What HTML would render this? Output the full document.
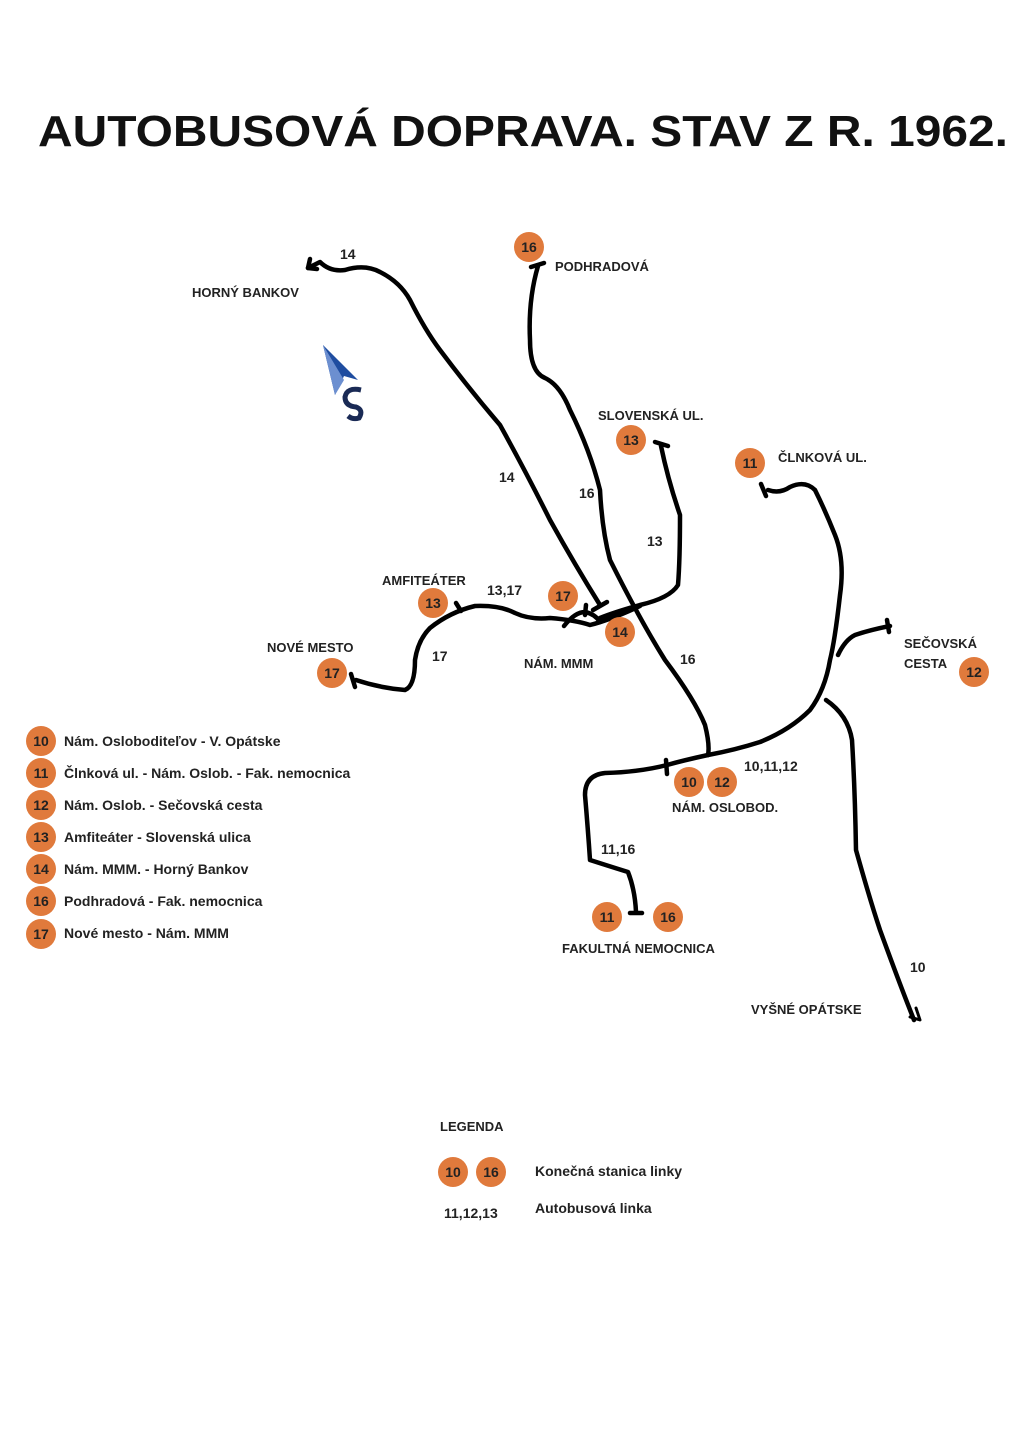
<!DOCTYPE html>
<html><head><meta charset="utf-8"><style>
html,body{margin:0;padding:0;background:#fff;}
svg{display:block;font-family:"Liberation Sans",sans-serif;}
</style></head><body>
<svg width="1024" height="1448" viewBox="0 0 1024 1448" xmlns="http://www.w3.org/2000/svg">
<text x="38" y="146" font-size="44" font-weight="bold" fill="#111" textLength="970" lengthAdjust="spacingAndGlyphs">AUTOBUSOVÁ DOPRAVA. STAV Z R. 1962.</text>

<g fill="none" stroke="#000" stroke-width="4.5" stroke-linecap="round" stroke-linejoin="round">
<!-- 14 -->
<path d="M308 268 L320 262 Q330 272 345 270 Q365 264 380 272 Q400 282 410 300 Q425 330 440 350 Q470 390 500 425 Q525 470 550 520 Q575 565 600 605"/>
<path d="M308 268 l2 -9 M308 268 l9 1"/>
<path d="M593 610 l14 -8"/>
<!-- 16 -->
<path d="M538 266 Q528 300 530 340 Q530 372 545 378 Q560 385 570 410 Q590 450 600 490 Q602 530 610 560 Q640 620 665 660 Q695 700 705 725 Q710 745 708 755"/>
<path d="M531 267 l13 -4"/>
<!-- 13 -->
<path d="M661 446 Q668 480 680 515 Q680 560 678 585 Q670 598 640 605 Q615 612 600 618"/>
<path d="M655 442 l13 4"/>
<!-- main line 13/17 -->
<path d="M356 680 Q380 688 405 690 Q415 686 415 660 Q418 640 430 628 Q450 612 475 606 Q500 605 515 613 Q530 620 550 618 Q575 620 590 625 Q610 620 640 606"/>
<path d="M351 674 l4 13"/>
<path d="M456 603 l5 8"/>
<path d="M564 626 Q575 612 585 612 Q595 614 600 622 M586 605 l-1 10"/>
<!-- 11/12 north -->
<path d="M768 490 Q780 494 790 487 Q805 480 815 490 Q825 510 835 535 Q845 560 840 595 Q835 640 830 660 Q825 690 810 710 Q790 730 760 742 Q735 750 708 755"/>
<path d="M761 484 l5 12"/>
<!-- 12 branch -->
<path d="M838 655 Q845 640 855 635 Q870 630 890 626"/>
<path d="M887 620 l2 12"/>
<!-- 10 -->
<path d="M826 700 Q848 715 852 740 Q855 790 856 850 Q870 900 880 930 Q900 985 914 1020"/>
<path d="M916 1008 l4 12 l-10 -3" stroke-width="3"/>
<!-- 11,16 south -->
<path d="M708 755 Q685 760 667 765 Q640 772 605 773 Q585 775 585 795 Q588 830 590 860 Q615 868 628 872 Q635 890 636 912"/>
<path d="M666 760 l1 14"/>
<path d="M630 913 l12 0"/>
</g>

<!-- compass -->
<polygon points="323,345 358,380 344,376 335,395" fill="#1f4da0"/>
<path d="M344 380 L335 395 L323 345 Z" fill="#6c8fd0"/>
<path d="M361 390 Q347 387 345 397 Q345 406 356 407 Q364 410 359 418 Q353 420 348 416" fill="none" stroke="#1a2a55" stroke-width="5"/>

<g fill="#e07a3c">
<circle cx="529" cy="247" r="15"/><circle cx="631" cy="440" r="15"/><circle cx="750" cy="463" r="15"/>
<circle cx="433" cy="603" r="15"/><circle cx="563" cy="596" r="15"/><circle cx="620" cy="632" r="15"/>
<circle cx="332" cy="673" r="15"/><circle cx="974" cy="672" r="15"/>
<circle cx="689" cy="782" r="15"/><circle cx="722" cy="782" r="15"/>
<circle cx="607" cy="917" r="15"/><circle cx="668" cy="917" r="15"/>
<circle cx="453" cy="1172" r="15"/><circle cx="491" cy="1172" r="15"/>
<circle cx="41" cy="741" r="15"/><circle cx="41" cy="773" r="15"/><circle cx="41" cy="805" r="15"/>
<circle cx="41" cy="837" r="15"/><circle cx="41" cy="869" r="15"/><circle cx="41" cy="901" r="15"/><circle cx="41" cy="934" r="15"/>
</g>
<g font-size="14" font-weight="bold" fill="#222" text-anchor="middle">
<text x="529" y="252">16</text><text x="631" y="445">13</text><text x="750" y="468">11</text>
<text x="433" y="608">13</text><text x="563" y="601">17</text><text x="620" y="637">14</text>
<text x="332" y="678">17</text><text x="974" y="677">12</text>
<text x="689" y="787">10</text><text x="722" y="787">12</text>
<text x="607" y="922">11</text><text x="668" y="922">16</text>
<text x="453" y="1177">10</text><text x="491" y="1177">16</text>
<text x="41" y="746">10</text><text x="41" y="778">11</text><text x="41" y="810">12</text>
<text x="41" y="842">13</text><text x="41" y="874">14</text><text x="41" y="906">16</text><text x="41" y="939">17</text>
</g>

<g font-size="13" font-weight="bold" fill="#222">
<text x="192" y="297">HORNÝ BANKOV</text>
<text x="555" y="271">PODHRADOVÁ</text>
<text x="598" y="420">SLOVENSKÁ UL.</text>
<text x="778" y="462">ČLNKOVÁ UL.</text>
<text x="382" y="585">AMFITEÁTER</text>
<text x="267" y="652">NOVÉ MESTO</text>
<text x="524" y="668">NÁM. MMM</text>
<text x="904" y="648">SEČOVSKÁ</text>
<text x="904" y="668">CESTA</text>
<text x="672" y="812">NÁM. OSLOBOD.</text>
<text x="562" y="953">FAKULTNÁ NEMOCNICA</text>
<text x="751" y="1014">VYŠNÉ OPÁTSKE</text>
<text x="440" y="1131">LEGENDA</text>
</g>
<g font-size="14" font-weight="bold" fill="#222">
<text x="340" y="259">14</text><text x="499" y="482">14</text><text x="579" y="498">16</text>
<text x="647" y="546">13</text><text x="487" y="595">13,17</text><text x="432" y="661">17</text>
<text x="680" y="664">16</text><text x="744" y="771">10,11,12</text><text x="601" y="854">11,16</text>
<text x="910" y="972">10</text><text x="444" y="1218">11,12,13</text>
</g>
<g font-size="14" font-weight="bold" fill="#222">
<text x="64" y="746">Nám. Osloboditeľov - V. Opátske</text>
<text x="64" y="778">Člnková ul. - Nám. Oslob. - Fak. nemocnica</text>
<text x="64" y="810">Nám. Oslob. - Sečovská cesta</text>
<text x="64" y="842">Amfiteáter - Slovenská ulica</text>
<text x="64" y="874">Nám. MMM. - Horný Bankov</text>
<text x="64" y="906">Podhradová - Fak. nemocnica</text>
<text x="64" y="938">Nové mesto - Nám. MMM</text>
<text x="535" y="1176">Konečná stanica linky</text>
<text x="535" y="1213">Autobusová linka</text>
</g>
</svg>
</body></html>
